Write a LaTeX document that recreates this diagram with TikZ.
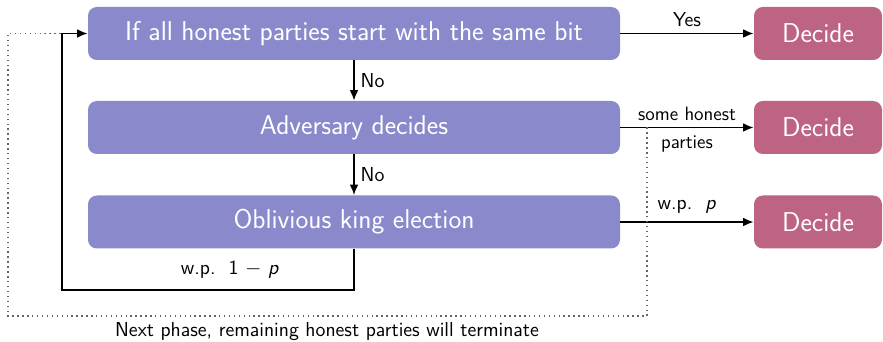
\documentclass[tikz,border=0pt]{standalone}
\usepackage{amsmath,amssymb}
\usepackage{tikz}
\usetikzlibrary{arrows.meta}
\definecolor{stepblue}{RGB}{137, 137, 204}
\definecolor{decidered}{RGB}{189, 99, 131}

\begin{document}
\renewcommand{\familydefault}{\sfdefault}
\sffamily
\begin{tikzpicture}[>={Latex[length=6pt,width=5pt]},
    stepbox/.style={rectangle,rounded corners=5pt,fill=stepblue,text=white,
        minimum width=10.64cm,minimum height=1.06cm,font=\fontsize{15.5}{18}\selectfont},
    decidebox/.style={rectangle,rounded corners=5pt,fill=decidered,text=white,
        minimum width=2.56cm,minimum height=1.06cm,font=\fontsize{15.5}{18}\selectfont},
    flow/.style={line width=1pt,->},
    lbl/.style={font=\fontsize{11.5}{14}\selectfont}]
\useasboundingbox (0,0) rectangle (17.66,6.84);

% Steps
\node[stepbox] (q1) at (7.08,6.17) {If all honest parties start with the same bit};
\node[stepbox] (q2) at (7.08,4.29) {Adversary decides};
\node[stepbox] (q3) at (7.08,2.40) {Oblivious king election};

% Outcomes
\coordinate (dx) at (16.36,0);
\node[decidebox] (d1) at (dx |- q1) {Decide};
\node[decidebox] (d2) at (dx |- q2) {Decide};
\node[decidebox] (d3) at (dx |- q3) {Decide};

% Flow
\draw[flow] (q1) -- node[lbl,right] {No} (q2);
\draw[flow] (q2) -- node[lbl,right] {No} (q3);
\draw[flow] (q1) -- node[lbl,above] {Yes} (d1);
\draw[flow] (q2) -- node[lbl,above,font=\fontsize{11}{13}\selectfont] {some honest}
    node[lbl,below,yshift=-1pt,font=\fontsize{11}{13}\selectfont] {parties} (d2);
\draw[flow] (q3) -- node[lbl,above,yshift=1pt] {w.p.~~\textit{p}} (d3);

% Loop back
\coordinate (loop) at (1.24,1.04);
\draw[flow] (q3.south) |- (loop) |- (q1.west);
\node[lbl] (wp) at (4.6,1.44) {w.p.~~1~$-$~\textit{p}};

% Next phase
\coordinate (tap) at (12.94,0 |- q2);
\coordinate (corner) at (0.16,0.52);
\coordinate (join) at (loop |- q1);
\draw[dotted,thick,gray!80!black] (tap) |- (corner) |- (join);
\node[lbl] (next) at (6.54,0.2) {Next phase, remaining honest parties will terminate};
\end{tikzpicture}
\end{document}
